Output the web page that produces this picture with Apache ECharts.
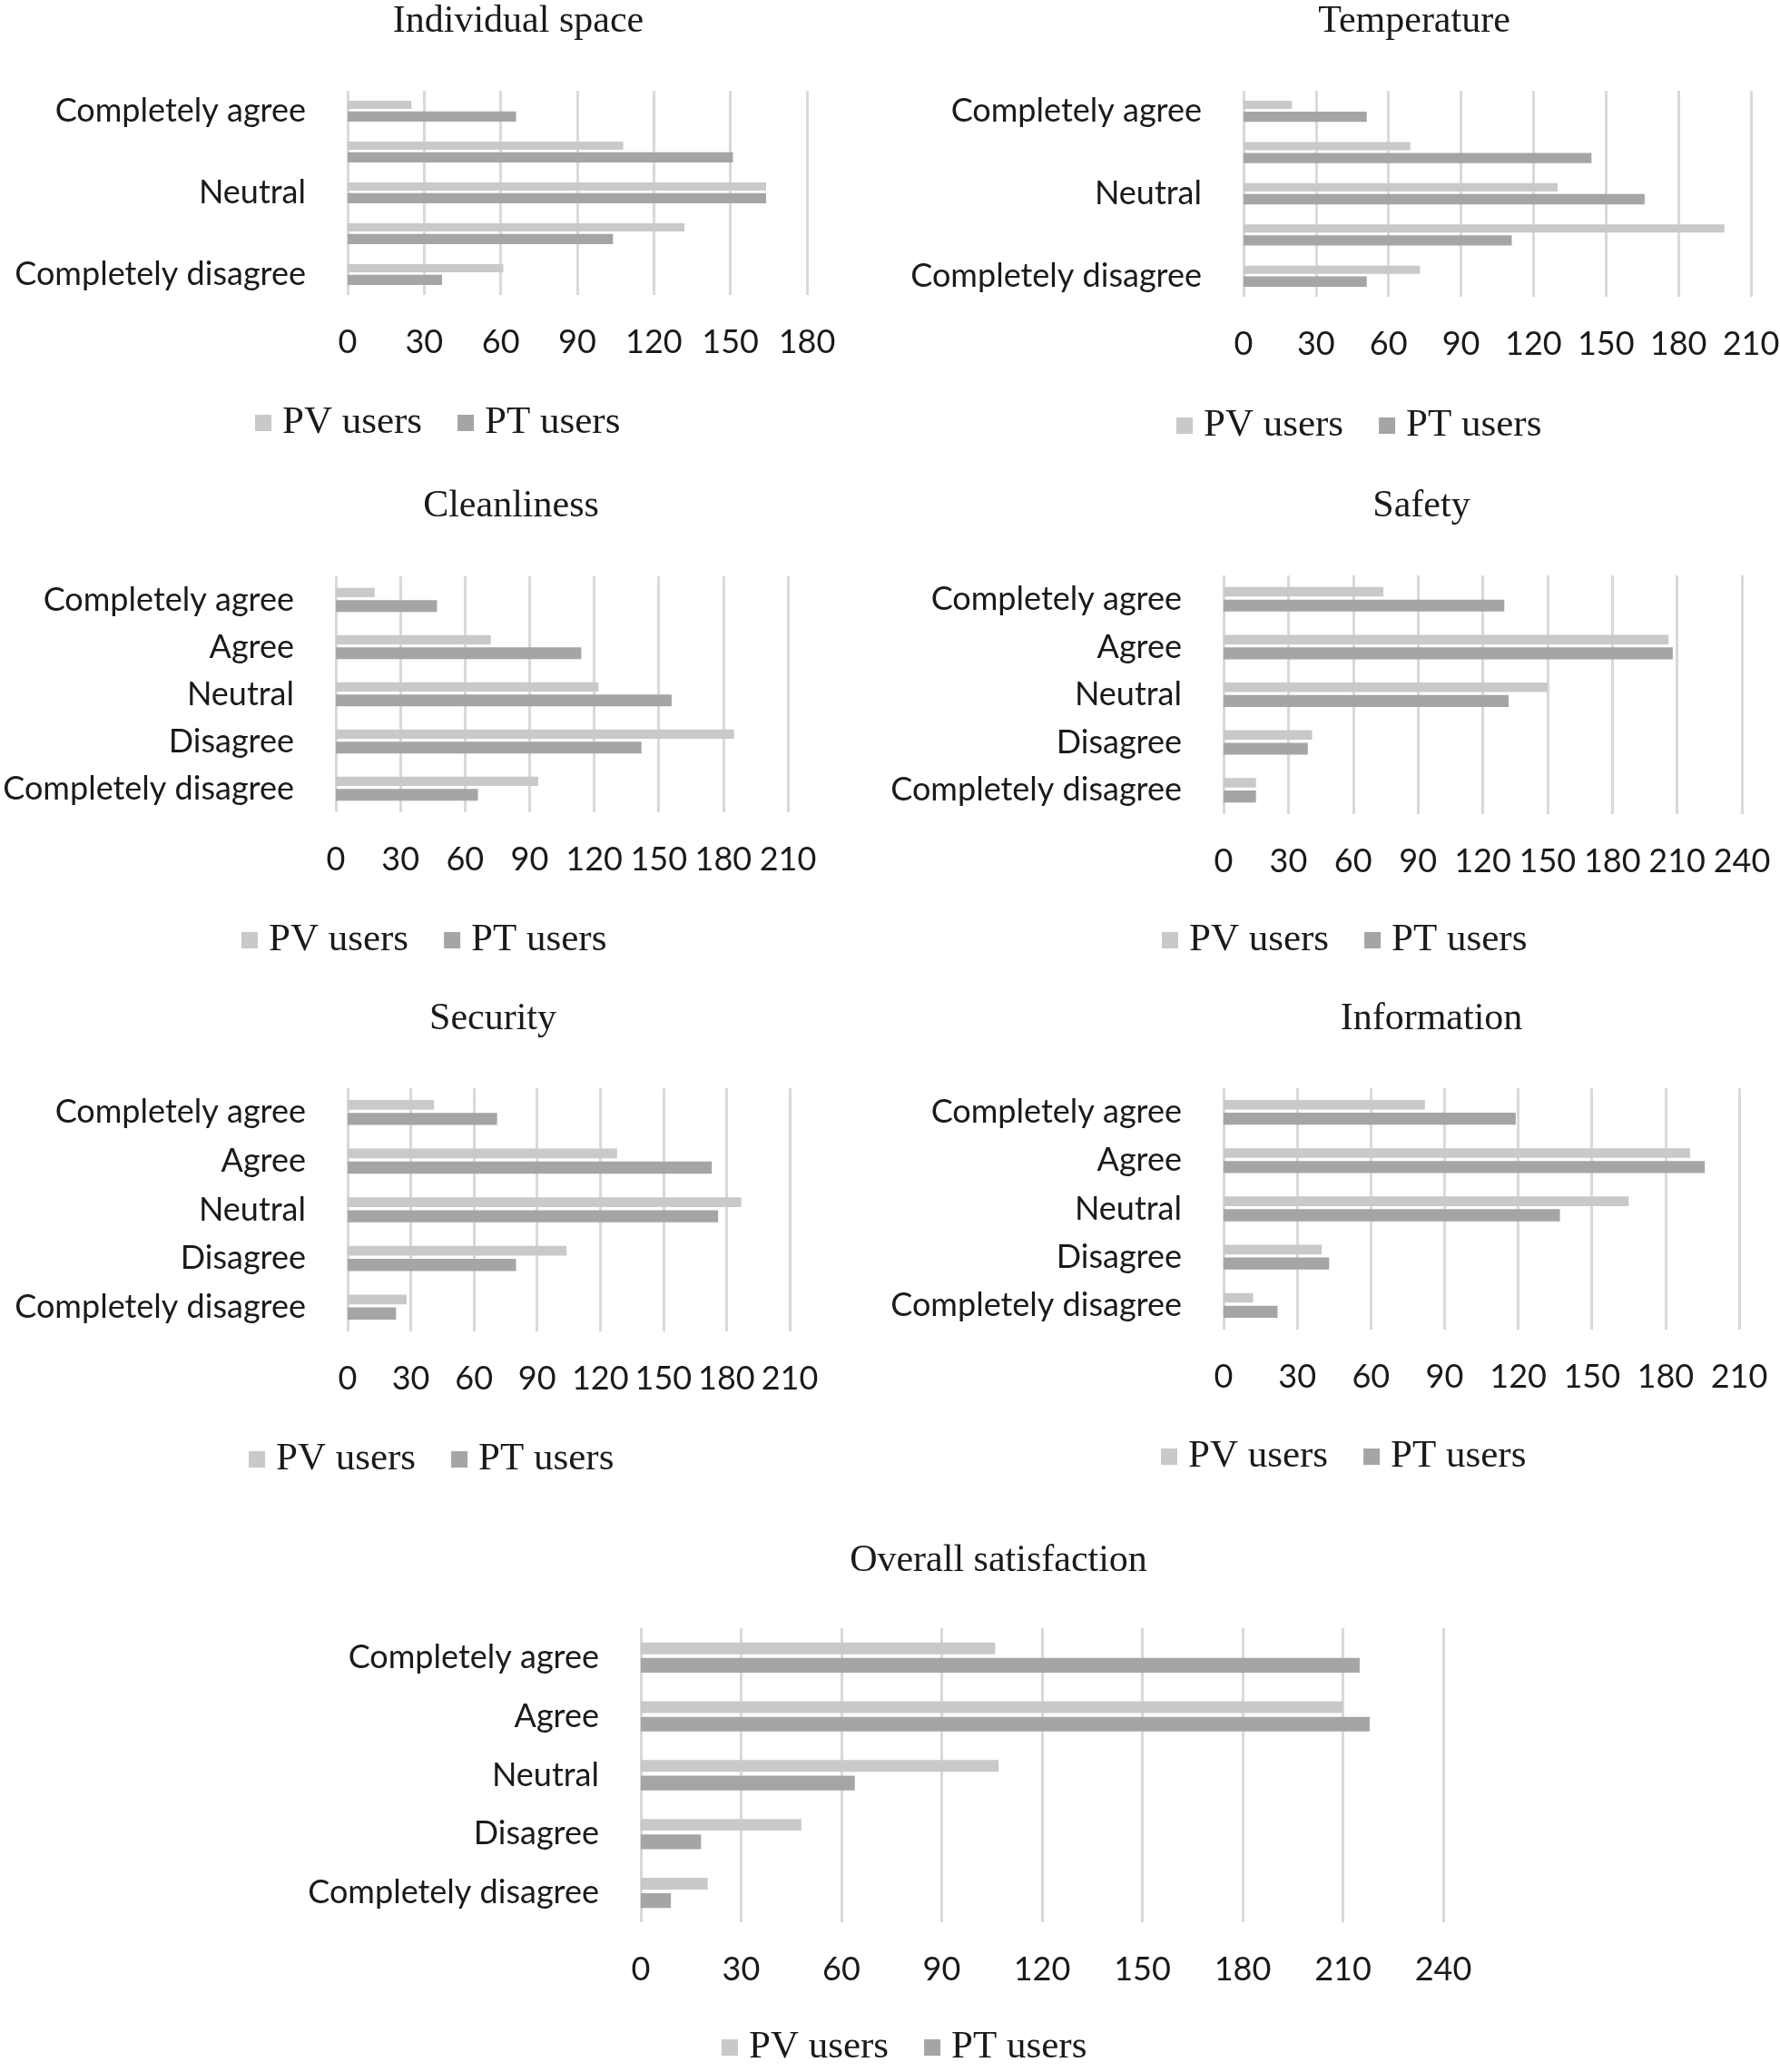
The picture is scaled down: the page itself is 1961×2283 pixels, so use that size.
<!DOCTYPE html>
<html><head><meta charset="utf-8">
<script src="https://cdn.jsdelivr.net/npm/echarts@6/dist/echarts.min.js"></script>
<style>html,body{margin:0;padding:0;background:#fff}#c{width:1961px;height:2283px}</style>
</head><body><div id="c"></div>
<script>
// ---- data ----
const categories = ['Completely agree', 'Agree', 'Neutral', 'Disagree', 'Completely disagree'];
const seriesNames = ['PV users', 'PT users'];
const panelTitles = ['Individual space', 'Temperature', 'Cleanliness', 'Safety', 'Security', 'Information', 'Overall satisfaction'];

const individualSpacePV = [25, 108, 164, 132, 61];
const individualSpacePT = [66, 151, 164, 104, 37];
const temperaturePV = [20, 69, 130, 199, 73];
const temperaturePT = [51, 144, 166, 111, 51];
const cleanlinessPV = [18, 72, 122, 185, 94];
const cleanlinessPT = [47, 114, 156, 142, 66];
const safetyPV = [74, 206, 150, 41, 15];
const safetyPT = [130, 208, 132, 39, 15];
const securityPV = [41, 128, 187, 104, 28];
const securityPT = [71, 173, 176, 80, 23];
const informationPV = [82, 190, 165, 40, 12];
const informationPT = [119, 196, 137, 43, 22];
const overallPV = [106, 210, 107, 48, 20];
const overallPT = [215, 218, 64, 18, 9];

const axisMax = [180, 210, 210, 240, 210, 210, 240];
const tickInterval = 30;

const pvData = [individualSpacePV, temperaturePV, cleanlinessPV, safetyPV, securityPV, informationPV, overallPV];
const ptData = [individualSpacePT, temperaturePT, cleanlinessPT, safetyPT, securityPT, informationPT, overallPT];

// ---- layout (pixels) ----
const layout = [
  {x0: 383, x1: 889, top: 100, bottom: 325, titleX: 571, titleY: 24, legendX: 281, legendY: 466, labelEvery: 1},
  {x0: 1370, x1: 1929, top: 100, bottom: 327, titleX: 1558, titleY: 24, legendX: 1296, legendY: 469, labelEvery: 1},
  {x0: 370, x1: 868, top: 635, bottom: 895, titleX: 563, titleY: 558, legendX: 266, legendY: 1036, labelEvery: 0},
  {x0: 1348, x1: 1919, top: 634, bottom: 897, titleX: 1566, titleY: 558, legendX: 1280, legendY: 1036, labelEvery: 0},
  {x0: 383, x1: 870, top: 1199, bottom: 1467, titleX: 543, titleY: 1123, legendX: 274, legendY: 1608, labelEvery: 0},
  {x0: 1348, x1: 1916, top: 1199, bottom: 1465, titleX: 1577, titleY: 1123, legendX: 1279, legendY: 1605, labelEvery: 0},
  {x0: 706, x1: 1590, top: 1794, bottom: 2118, titleX: 1100, titleY: 1720, legendX: 795, legendY: 2256, labelEvery: 0}
];

const PV_COLOR = '#c8c9ca';
const PT_COLOR = '#a5a5a6';
const TEXT = '#1a1a1a';
const SANS = 'Lato';
const SERIF = 'Liberation Serif';

const option = {
  animation: false,
  backgroundColor: '#ffffff',
  title: [], legend: [], grid: [], xAxis: [], yAxis: [], series: []
};

layout.forEach((L, i) => {
  const band = (L.bottom - L.top) / categories.length;
  option.title.push({
    text: panelTitles[i], left: L.titleX, top: L.titleY - 25, textAlign: 'center', padding: 0,
    textStyle: {fontFamily: SERIF, fontSize: 42, fontWeight: 'normal', color: TEXT, lineHeight: 50}
  });
  option.legend.push({
    data: seriesNames, left: L.legendX, top: L.legendY - 25, padding: 0, orient: 'horizontal',
    icon: 'rect', itemWidth: 18, itemHeight: 18, itemGap: 39, selectedMode: false,
    textStyle: {fontFamily: SERIF, fontSize: 43, color: TEXT, lineHeight: 50, padding: [0, 0, 0, 7]}
  });
  option.grid.push({
    left: L.x0, top: L.top, width: L.x1 - L.x0, height: L.bottom - L.top,
    containLabel: false, outerBoundsMode: 'none'
  });
  option.xAxis.push({
    gridIndex: i, type: 'value', min: 0, max: axisMax[i], interval: tickInterval,
    axisLine: {show: false}, axisTick: {show: false},
    splitLine: {show: true, lineStyle: {color: '#d9d9d9', width: 3}},
    axisLabel: {fontFamily: SANS, fontSize: 36, color: TEXT, margin: 32, lineHeight: 40}
  });
  option.yAxis.push({
    gridIndex: i, type: 'category', inverse: true, data: categories,
    axisLine: {show: false}, axisTick: {show: false}, splitLine: {show: false},
    axisLabel: {interval: L.labelEvery, fontFamily: SANS, fontSize: 36, color: TEXT, margin: 46}
  });
  option.series.push({
    type: 'bar', name: seriesNames[0], xAxisIndex: i, yAxisIndex: i, data: pvData[i],
    barWidth: band * 0.2, barGap: '32%', itemStyle: {color: PV_COLOR}, z: 3, silent: true
  });
  option.series.push({
    type: 'bar', name: seriesNames[1], xAxisIndex: i, yAxisIndex: i, data: ptData[i],
    barWidth: band * 0.25, barGap: '32%', itemStyle: {color: PT_COLOR}, z: 2, silent: true
  });
});

const chart = echarts.init(document.getElementById('c'), null, {renderer: 'canvas'});
chart.setOption(option);
</script>
</body></html>
